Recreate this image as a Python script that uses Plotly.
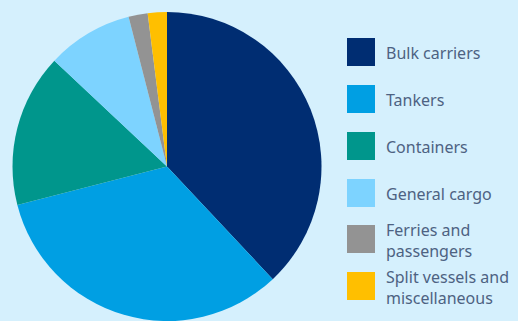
import plotly.graph_objects as go

# Fleet composition by vessel type (share, %)
categories = ["Bulk carriers", "Tankers", "Containers", "General cargo",
              "Ferries and<br>passengers", "Split vessels and<br>miscellaneous"]
shares = [38, 33, 16, 9, 2, 2]
colors = ["#002d72", "#009fe3", "#00968c", "#7dd3ff", "#939393", "#ffbf00"]

W, H = 518, 321
BG = "#d5f0fd"
TEXT = "#4d6282"
FONT = "Noto Sans, Open Sans, sans-serif"

fig = go.Figure(go.Pie(
    labels=categories,
    values=shares,
    marker=dict(colors=colors, line=dict(width=0)),
    sort=False,
    direction="clockwise",
    rotation=0,
    textinfo="none",
    hoverinfo="label+percent",
    showlegend=False,
    domain=dict(x=[12 / W, 322 / W], y=[0, 309 / H]),
))

# Custom legend: large square swatches with (possibly two-line) labels
shapes, annotations = [], []
row_centers = [52, 99, 146, 193, 239, 286]
sw_x0, sw_size, txt_x = 347, 28, 384
for name, col, cy in zip(categories, colors, row_centers):
    shapes.append(dict(
        type="rect", xref="paper", yref="paper",
        x0=sw_x0 / W, x1=(sw_x0 + sw_size) / W,
        y0=1 - (cy + sw_size / 2) / H, y1=1 - (cy - sw_size / 2) / H,
        fillcolor=col, line=dict(width=0),
    ))
    annotations.append(dict(
        text=name, xref="paper", yref="paper",
        x=txt_x / W, y=1 - (cy + 1) / H, xanchor="left", yanchor="middle",
        align="left", showarrow=False,
        font=dict(family=FONT, size=16, color=TEXT),
    ))

fig.update_layout(
    width=W, height=H,
    margin=dict(l=0, r=0, t=0, b=0),
    paper_bgcolor=BG, plot_bgcolor=BG,
    shapes=shapes, annotations=annotations,
)

fig.write_html("out.html")
